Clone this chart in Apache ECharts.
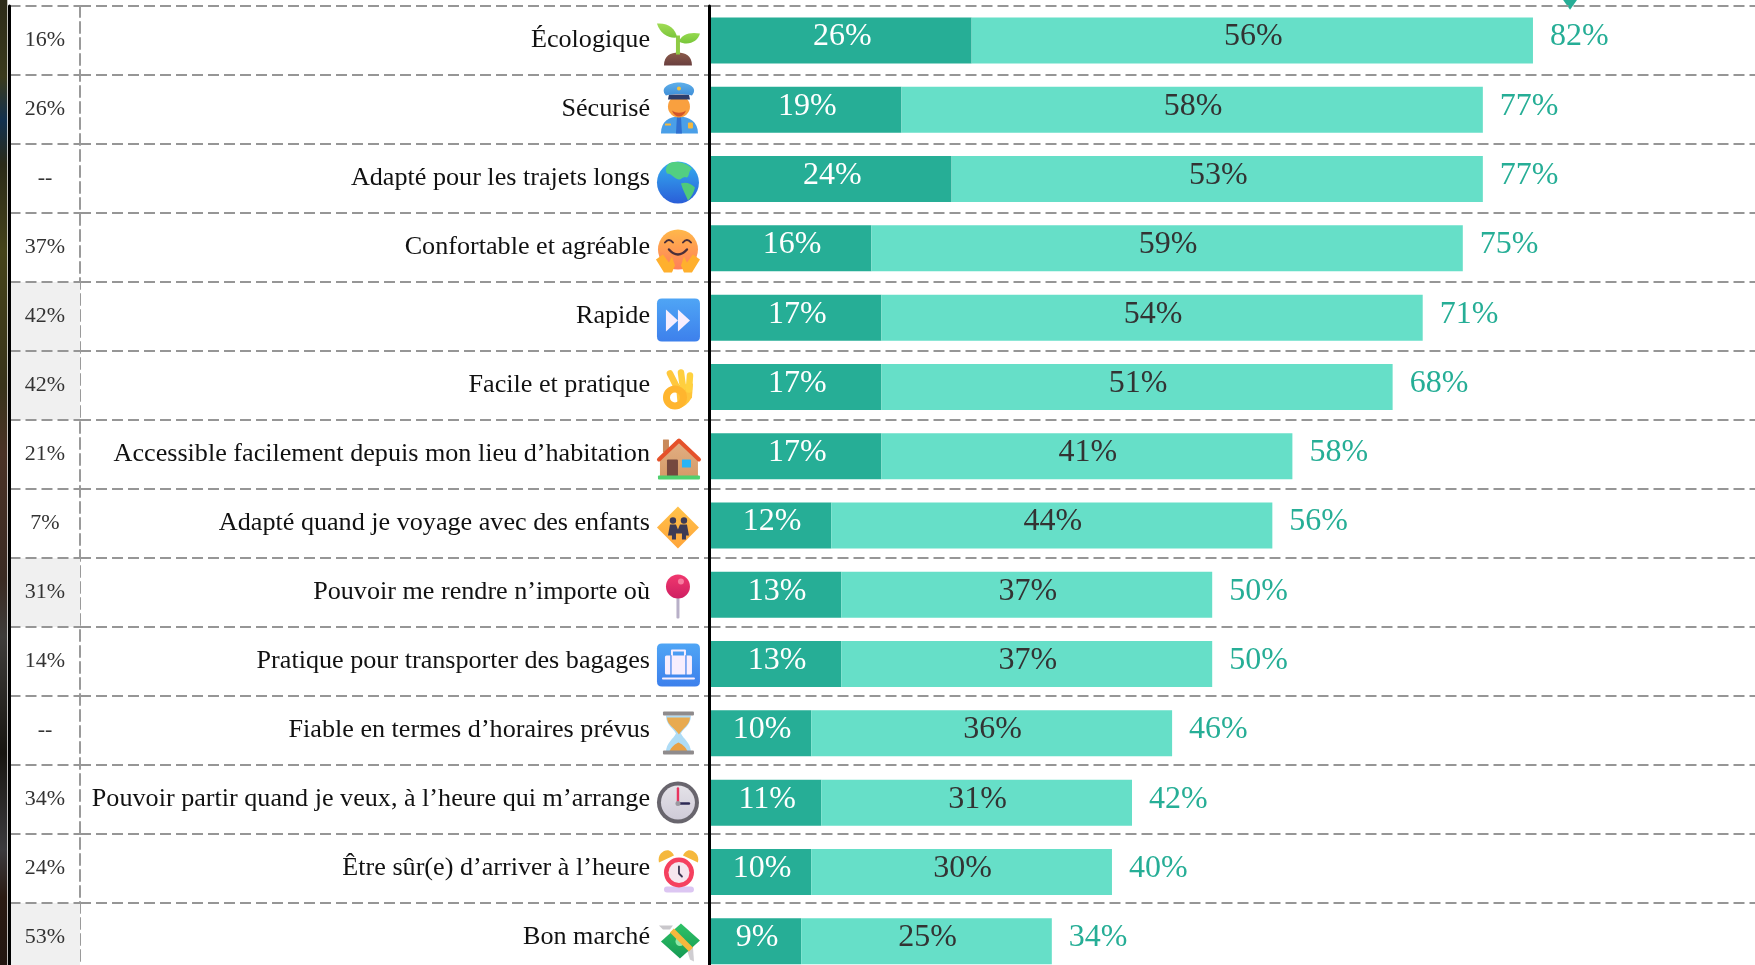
<!DOCTYPE html>
<html><head><meta charset="utf-8">
<style>html,body{margin:0;padding:0;background:#fff;overflow:hidden}#c{width:1755px;height:965px}</style>
<script src="https://cdn.jsdelivr.net/npm/echarts@6/dist/echarts.min.js"></script>
</head><body><div id="c"></div>
<script>
const categories = ["Écologique","Sécurisé","Adapté pour les trajets longs","Confortable et agréable","Rapide","Facile et pratique","Accessible facilement depuis mon lieu d’habitation","Adapté quand je voyage avec des enfants","Pouvoir me rendre n’importe où","Pratique pour transporter des bagages","Fiable en termes d’horaires prévus","Pouvoir partir quand je veux, à l’heure qui m’arrange","Être sûr(e) d’arriver à l’heure","Bon marché"];
const strong = [26,19,24,16,17,17,17,12,13,13,10,11,10,9];
const moderate = [56,58,53,59,54,51,41,44,37,37,36,31,30,25];
const totals = [82,77,77,75,71,68,58,56,50,50,46,42,40,34];
const previous = ["16%","26%","--","37%","42%","42%","21%","7%","31%","14%","--","34%","24%","53%"];
const shaded = [0,0,0,0,1,1,0,0,1,0,0,0,0,1];
const benchmark = [85.7];
const iconKeys = ["sprout","police","globe","hug","forward","ok","house","family","pin","luggage","hourglass","clock","alarm","money"];

const c=(x,y,r)=>`M${x-r} ${y}A${r} ${r} 0 1 1 ${x+r} ${y}A${r} ${r} 0 1 1 ${x-r} ${y}Z`;
const rr=(x,y,w,h,r)=>`M${x+r} ${y}L${x+w-r} ${y}Q${x+w} ${y} ${x+w} ${y+r}L${x+w} ${y+h-r}Q${x+w} ${y+h} ${x+w-r} ${y+h}L${x+r} ${y+h}Q${x} ${y+h} ${x} ${y+h-r}L${x} ${y+r}Q${x} ${y} ${x+r} ${y}Z`;
const lg=(a,b)=>({type:'linear',x:0,y:0,x2:0,y2:1,colorStops:[{offset:0,color:a},{offset:1,color:b}]});
const icons={
 sprout:[["M-14 21C-14 11-7 8 0 8C7 8 14 11 14 21Z",lg('#8a5a4a','#6a3f3f')],["M-2 -9L2 -9L2 10L-2 10Z",'#8fcb45'],["M-21 -21C-10 -22-2 -16-1 -7C-10 -6-18 -11-21 -21Z",lg('#a0dc55','#7cc63c')],["M1 -3C3 -10 12 -13 22 -11C20 -3 10 2 1 -3Z",lg('#96da50','#78c63a')]],
 police:[["M-17 20C-17 8-9 3 1 3C11 3 20 8 20 20Z",'#4a9fe8'],["M-1 3L3 3L4 20L-2 20Z",'#2f6fd0'],[rr(10,9,5,6,1),'#f5b83d'],[rr(-13,10,6,2,.5),'#f5b83d'],[c(1,-7,11),'#f9a03f'],["M-6 -3C-3 5 5 5 8 -3C4 0-2 0-6 -3Z",'#d2552a'],["M-10 -14L-9 -19L11 -19L12 -14Z",'#2d3d6a'],["M-12 -18C-19 -26-8 -31 1 -31C10 -31 21 -26 14 -18C6 -20-4 -20-12 -18Z",lg('#5fb0ea','#3f8fd8')],[c(1,-25,2),'#f5c13d']],
 globe:[[c(0,0,21),lg('#34aef0','#2a5ed8')],["M-9 -19C-2 -22 8 -20 14 -14C10 -11 12 -7 9 -5C5 -7 4 -3 1 -3C-4 -4-6 -9-11 -9C-13 -13-12 -16-9 -19Z",'#52cf82'],["M3 1C8 -1 13 1 17 5C16 10 13 15 10 18C8 13 5 8 3 1Z",'#4fca7a']],
 hug:[[c(0,-2,20),lg('#ffb84a','#ff7f5a')],["M-13 -9Q-9 -14-5 -9",null,'#4a2f3a',2],["M5 -9Q9 -14 13 -9",null,'#4a2f3a',2],["M-9 -2Q0 8 9 -2",null,'#4a2f3a',2.4],["M-22 8L-15 3L-9 11L-6 5L-3 14L-6 21L-14 21Z",'#ffb02e'],["M22 8L15 3L9 11L6 5L3 14L6 21L14 21Z",'#ffb02e']],
 forward:[[rr(-21,-22,43,43,5),lg('#4fa5f5','#3d80ec')],["M-12 -11L0 0L-12 11Z",'#f7eefe'],["M0 -11L12 0L0 11Z",'#f7eefe']],
 ok:[["M-2 -4L15 -6L14 8Q8 18 0 19Z",'#ffc43a'],["M0 0L-8 -16",null,'#ffc83d',6.5],["M5 -2L3 -17",null,'#ffcf3f',6.5],["M11 0L12 -14",null,'#ffd23f',6.5],[c(-3,8,8.5),null,'#ffb52e',7]],
 house:[["M-18 0L1 -18L20 0L20 19L-18 19Z",lg('#e2b084','#d69a68')],[rr(-15,-19,6,13,.5),'#c98a5a'],["M-19 1L1 -18L21 1",null,'#e5522b',4],[rr(-11,1,11,17,1),'#75483f'],[rr(4,1,9,8,.5),'#2ab4f5'],[rr(-20,17,42,4,1),'#4fd06e']],
 family:[["M0 -21L21 0L0 21L-21 0Z",lg('#ffc24a','#ffa53a')],[c(-5,-7,3.2),'#3d3a55'],[c(6,-7,3.2),'#3d3a55'],["M-10 8L-8 -3L-2 -3L0 2L2 -3L9 -3L11 8L8 8L8 12L4 12L4 6L0 6L-2 6L-2 12L-6 12L-6 8Z",'#3d3a55']],
 pin:[[rr(-1.5,-2,3,24,1),'#b8b0c8'],[c(0,-10,12),lg('#f0386e','#cf1f62')],[c(3,-15,3),'#f87ca0']],
 luggage:[[rr(-21,-22,43,43,5),lg('#4fa5f5','#3d80ec')],["M-6 -10L-6 -15L7 -15L7 -10",null,'#f7eefe',2],[rr(-13,-10,27,19,1.5),'#f7eefe'],["M-7 -10L-7 9M8 -10L8 9",null,'#3d80ec',1.2],["M-15 13L16 13",null,'#f7eefe',2]],
 hourglass:[["M-12 -19L13 -19C13 -9 5 -6 3 -1C5 4 13 8 13 18L-12 18C-12 8-4 4-2 -1C-4 -6-12 -9-12 -19Z",'#aedcf6'],["M-11 -17L12 -17C12 -9 4 -6 1 0C-2 -6-11 -9-11 -17Z",'#e8aa50'],["M-9 18C-7 12-2 9 0.5 8C3 9 8 12 10 18Z",'#e8a045'],[rr(-15,-23,31,4,1),'#8f8b8c'],[rr(-15,16,31,4,1),'#8f8b8c']],
 clock:[[c(0,-1,21),'#68656d'],[c(0,-1,17),lg('#e4e2e8','#cfcbd8')],["M0 -15L0 0",null,'#e8345f',2.4],["M0 0L11 0",null,'#2d2a55',2.4],[c(0,0,2.5),'#9a98a0']],
 alarm:[["M-19 -10C-21 -18-14 -23-9 -22C-6 -21-5 -19-4 -17Z",'#f5b83d'],["M20 -10C22 -18 15 -23 10 -22C7 -21 6 -19 5 -17Z",'#f5b83d'],[rr(-14,14,30,6,3),'#dcc6f2'],[c(1,0,15),'#f5405f'],[c(1,0,10.5),'#f5e6ee'],["M1 -6L1 1L4 4",null,'#3a3450',1.8]],
 money:[["M-19 -16L-5 -16L-8 -12L-15 -12Z",'#c9c7cb'],["M8 5L15 5L16 20L12 18Z",'#cfcdd1'],["M3 -18L22 -1L2 17L-17 0Z",lg('#2fc267','#169a54')],[c(2,0,4.5),'#8fe8a8'],["M-8 -9L11 10L15 6L-4 -13Z",'#f5b83d']]
};

const font="'Liberation Serif',serif";
const strip={type:'linear',x:0,y:0,x2:0,y2:1,colorStops:[[0,'#2c2a18'],[.08,'#3a3a1c'],[.125,'#12304e'],[.17,'#2a2a18'],[.26,'#45431a'],[.4,'#38331a'],[.47,'#4a3226'],[.6,'#3a2a22'],[.66,'#3e3c3a'],[.78,'#171510'],[.88,'#3b3a3e'],[.93,'#2a1a12'],[1,'#221510']].map(s=>({offset:s[0],color:s[1]}))};
const TOP=6,H=966;
const dash={show:true,lineStyle:{color:'#969696',width:2,type:[11,5]}};
const hideX=(i,min,max)=>({gridIndex:i,type:'value',min:min,max:max,show:false});
const gridAt=(left,width,top,height)=>({left:left,width:width,top:top,height:height,outerBoundsMode:'none'});

const chart=echarts.init(document.getElementById('c'),null,{renderer:'canvas'});
chart.setOption({
 animation:false,backgroundColor:'#fff',
 graphic:[{type:'rect',z:-1,shape:{x:0,y:0,width:7.3,height:965},style:{fill:strip}}],
 grid:[gridAt(9.5,70.5,TOP,H),gridAt(80,629.5,TOP,H),gridAt(709.5,1045.5,TOP,H),gridAt(711,1044,5.86,970)],
 xAxis:[hideX(0,0,1),hideX(1,0,1),hideX(2,0,1),hideX(3,0,104.15)],
 yAxis:[
  {gridIndex:0,type:'category',inverse:true,data:previous,axisTick:{show:false},splitLine:dash,
   axisLine:{show:true,lineStyle:{color:'#000',width:3}},
   axisLabel:{inside:true,align:'center',margin:35.5,color:'#333',fontFamily:font,fontSize:22,padding:[0,0,5,0]},z:5},
  {gridIndex:1,type:'category',inverse:true,data:categories,axisTick:{show:false},splitLine:dash,
   axisLine:{show:true,lineStyle:{color:'#9a9a9a',width:2,type:[11,5]}},axisLabel:{show:false}},
  {gridIndex:2,type:'category',inverse:true,data:categories,axisTick:{show:false},splitLine:dash,
   axisLine:{show:true,lineStyle:{color:'#000',width:3}},
   axisLabel:{margin:59.5,color:'#111',fontFamily:font,fontSize:26.15,padding:[0,0,12,0]},z:5},
  {gridIndex:3,type:'category',inverse:true,data:categories,show:false}
 ],
 series:[
  {name:'shade',type:'bar',xAxisIndex:0,yAxisIndex:0,data:shaded,barWidth:'100%',itemStyle:{color:'#f0f0f0'},silent:true,z:1},
  {name:'icons',type:'custom',xAxisIndex:1,yAxisIndex:1,data:iconKeys.map((k,i)=>[0.9499,i]),clip:false,
   encode:{x:0,y:1},
   renderItem(p,api){
    const pt=api.coord([api.value(0),api.value(1)]);
    const key=iconKeys[p.dataIndex];
    return {type:'group',x:pt[0],y:pt[1]+4,children:icons[key].map(s=>({type:'path',shape:{pathData:s[0]},
      style:{fill:s[1]||'none',stroke:s[2]||null,lineWidth:s[3]||0,lineCap:'round',lineJoin:'round'}}))};
   }},
  {name:'strong',type:'bar',xAxisIndex:3,yAxisIndex:3,stack:'a',data:strong,barWidth:46,itemStyle:{color:'#26ae96'},
   label:{show:true,position:'inside',offset:[1,-3.5],color:'#fff',fontFamily:font,fontSize:32,formatter:'{c}%'}},
  {name:'moderate',type:'bar',xAxisIndex:3,yAxisIndex:3,stack:'a',data:moderate,barWidth:46,itemStyle:{color:'#66dfc8'},
   label:{show:true,position:'inside',offset:[1,-3.5],color:'#333',fontFamily:font,fontSize:32,formatter:'{c}%'}},
  {name:'total',type:'bar',xAxisIndex:3,yAxisIndex:3,data:totals,barWidth:46,barGap:'-100%',itemStyle:{color:'rgba(0,0,0,0)'},
   label:{show:true,position:'right',distance:17,offset:[0,-3.5],color:'#26ae96',fontFamily:font,fontSize:32,formatter:'{c}%'}},
  {name:'benchmark',type:'custom',xAxisIndex:3,yAxisIndex:3,data:benchmark.map(v=>[v,0]),clip:false,encode:{x:0,y:1},
   renderItem(p,api){
    const pt=api.coord([api.value(0),api.value(1)]);
    const top=pt[1]-api.size([0,1])[1]/2;
    return {type:'polygon',shape:{points:[[pt[0]-7,top-6],[pt[0]+7,top-6],[pt[0],top+4]]},style:{fill:'#26ae96'}};
   }}
 ]
});
</script></body></html>
